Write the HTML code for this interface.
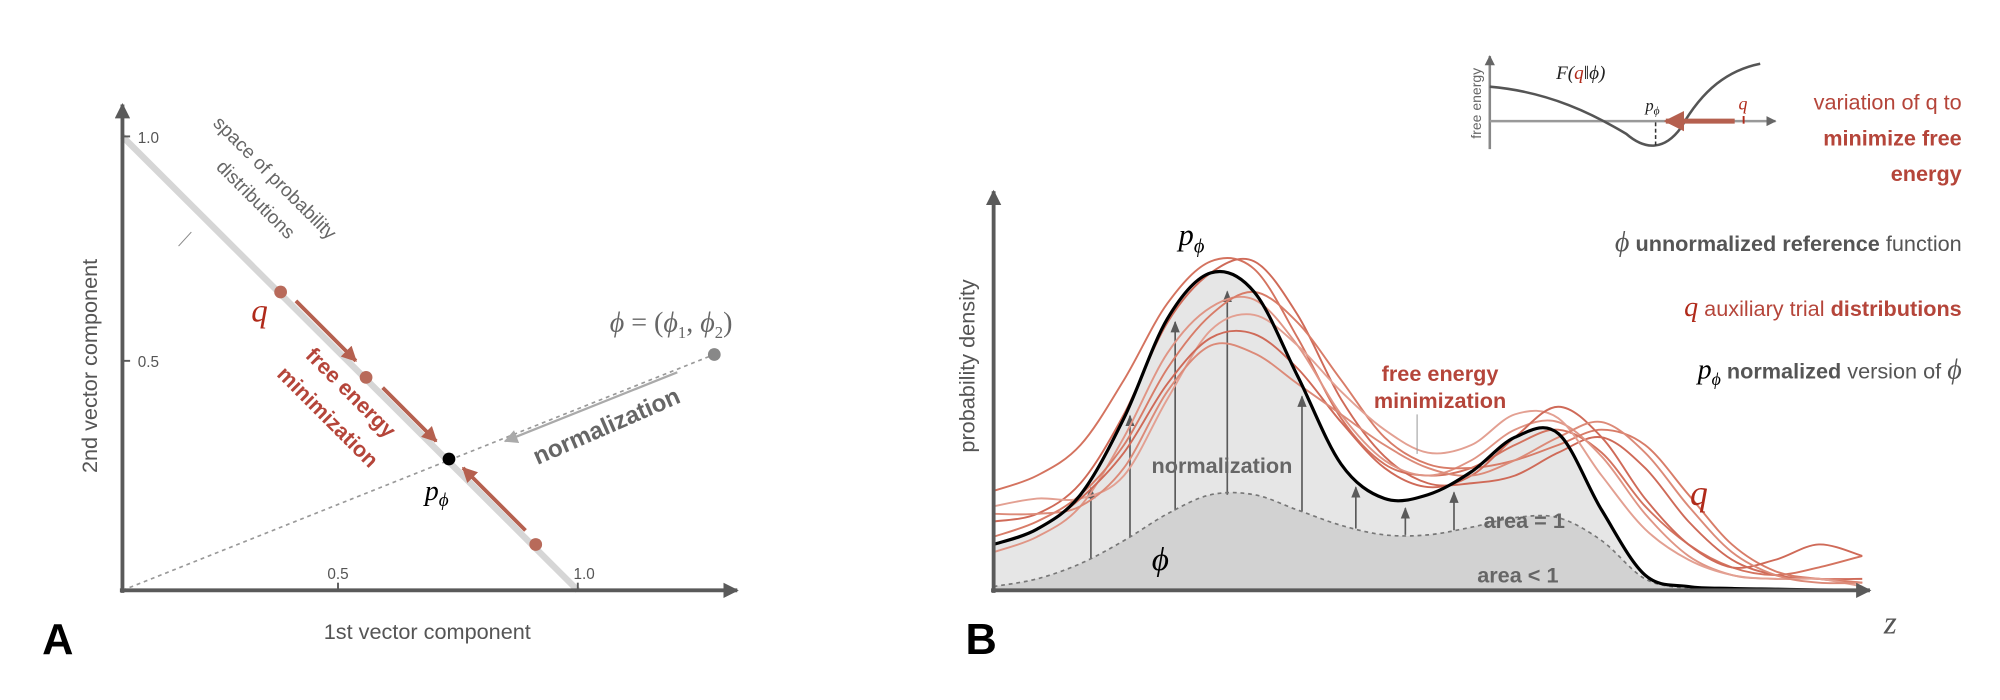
<!DOCTYPE html>
<html><head><meta charset="utf-8"><style>
html,body{margin:0;padding:0;background:#fff}
svg{display:block}
text{font-family:"Liberation Sans",sans-serif}
.serif{font-family:"Liberation Serif",serif;font-style:italic}
</style></head><body>
<svg id="fig" width="2000" height="700" viewBox="0 0 1568 549" preserveAspectRatio="none" xmlns="http://www.w3.org/2000/svg">
<defs>
<marker id="ag" viewBox="0 0 10 10" refX="9" refY="5" markerWidth="4" markerHeight="4" orient="auto"><path d="M0,0L10,5L0,10z" fill="#5a5a5a"/></marker>
<marker id="agb" viewBox="0 0 10 10" refX="9" refY="5" markerWidth="7" markerHeight="7" orient="auto"><path d="M0,1L10,5L0,9z" fill="#5a5a5a"/></marker>
<marker id="ar" viewBox="0 0 10 10" refX="9" refY="5" markerWidth="4" markerHeight="4" orient="auto"><path d="M0,0L10,5L0,10z" fill="#b5604f"/></marker>
<marker id="al" viewBox="0 0 10 10" refX="9" refY="5" markerWidth="6" markerHeight="6" orient="auto"><path d="M0,0L10,5L0,10z" fill="#aaa"/></marker>
<marker id="as" viewBox="0 0 10 10" refX="9" refY="5" markerWidth="4" markerHeight="4" orient="auto"><path d="M0,0L10,5L0,10z" fill="#666"/></marker>
</defs>

<!-- Panel A -->
<g id="panelA">
<line x1="96" y1="107" x2="453" y2="463" stroke="#d6d6d6" stroke-width="5"/>
<line x1="96" y1="463" x2="560" y2="278" stroke="#999" stroke-width="1.3" stroke-dasharray="3,3"/>
<line x1="96" y1="465" x2="96" y2="82" stroke="#5a5a5a" stroke-width="3" marker-end="url(#ag)"/>
<line x1="94" y1="463" x2="578" y2="463" stroke="#5a5a5a" stroke-width="3" marker-end="url(#ag)"/>
<line x1="96" y1="107" x2="102" y2="107" stroke="#5a5a5a" stroke-width="1.5"/>
<line x1="96" y1="283" x2="102" y2="283" stroke="#5a5a5a" stroke-width="1.5"/>
<line x1="265" y1="463" x2="265" y2="457" stroke="#5a5a5a" stroke-width="1.5"/>
<line x1="453" y1="463" x2="453" y2="457" stroke="#5a5a5a" stroke-width="1.5"/>
<text x="108" y="112" font-size="12" fill="#555">1.0</text>
<text x="108" y="288" font-size="12" fill="#555">0.5</text>
<text x="265" y="454" font-size="12" fill="#555" text-anchor="middle">0.5</text>
<text x="458" y="454" font-size="12" fill="#555" text-anchor="middle">1.0</text>
<text transform="translate(76,287) rotate(-90)" font-size="17" fill="#555" text-anchor="middle">2nd vector component</text>
<text x="335" y="501" font-size="17" fill="#555" text-anchor="middle">1st vector component</text>
<text transform="translate(212,143) rotate(45)" font-size="15" fill="#666" text-anchor="middle">space of probability</text>
<text transform="translate(197,160) rotate(45)" font-size="15" fill="#666" text-anchor="middle">distributions</text>
<line x1="140" y1="193" x2="150" y2="182" stroke="#888" stroke-width="0.8"/>
<line x1="232" y1="236" x2="279" y2="283" stroke="#b5604f" stroke-width="3" marker-end="url(#ar)"/>
<line x1="300" y1="304" x2="342" y2="346" stroke="#b5604f" stroke-width="3" marker-end="url(#ar)"/>
<line x1="412" y1="416" x2="363" y2="367" stroke="#b5604f" stroke-width="3" marker-end="url(#ar)"/>
<circle cx="220" cy="229" r="5" fill="#b86a5a"/>
<circle cx="287" cy="296" r="5" fill="#b86a5a"/>
<circle cx="420" cy="427" r="5" fill="#b86a5a"/>
<circle cx="352" cy="360" r="5" fill="#000"/>
<circle cx="560" cy="278" r="5" fill="#888"/>
<line x1="531" y1="292" x2="396" y2="346" stroke="#aaa" stroke-width="1.8" marker-end="url(#al)"/>
<text transform="translate(478,340) rotate(-23.6)" font-size="19" font-weight="bold" fill="#666" text-anchor="middle">normalization</text>
<text transform="translate(271,312) rotate(45)" font-size="17" font-weight="bold" fill="#b5453a" text-anchor="middle">free energy</text>
<text transform="translate(253,331) rotate(45)" font-size="17" font-weight="bold" fill="#b5453a" text-anchor="middle">minimization</text>
<text class="serif" x="197" y="252" font-size="26" fill="#b02a1a">q</text>
<text class="serif" x="333" y="392" font-size="22" fill="#000">p<tspan font-size="15" dy="5">ϕ</tspan></text>
<text class="serif" x="478" y="260" font-size="22" fill="#666">ϕ <tspan font-style="normal">= (</tspan>ϕ<tspan font-size="13" dy="5" font-style="normal">1</tspan><tspan dy="-5" font-style="normal">, </tspan>ϕ<tspan font-size="13" dy="5" font-style="normal">2</tspan><tspan dy="-5" font-style="normal">)</tspan></text>
<text x="33" y="513" font-size="34" font-weight="bold" fill="#000">A</text>
</g>

<!-- Panel B -->
<g id="panelB">
<path id="blackFill" fill="#e6e6e6"/>
<path id="phiFill" fill="#d2d2d2"/>
<g id="arrows"></g>
<g id="qcurves"></g>
<path id="phiLine" fill="none" stroke="#777" stroke-width="1.3" stroke-dasharray="3,3"/>
<path id="blackLine" fill="none" stroke="#000" stroke-width="2.5"/>
<line x1="779" y1="465" x2="779" y2="150" stroke="#5a5a5a" stroke-width="3" marker-end="url(#ag)"/>
<line x1="777" y1="463" x2="1466" y2="463" stroke="#5a5a5a" stroke-width="3" marker-end="url(#ag)"/>
<text class="serif" x="1477" y="497" font-size="26" fill="#555">z</text>
<text transform="translate(764,287) rotate(-90)" font-size="17" fill="#555" text-anchor="middle">probability density</text>
<text class="serif" x="924" y="192" font-size="24" fill="#000">p<tspan font-size="16" dy="6">ϕ</tspan></text>
<text x="958" y="371" font-size="17" font-weight="bold" fill="#666" text-anchor="middle">normalization</text>
<text x="1129" y="299" font-size="17" font-weight="bold" fill="#b5453a" text-anchor="middle">free energy</text>
<text x="1129" y="320" font-size="17" font-weight="bold" fill="#b5453a" text-anchor="middle">minimization</text>
<line x1="1111" y1="325" x2="1111" y2="356" stroke="#999" stroke-width="0.8"/>
<text x="1195" y="414" font-size="17" font-weight="bold" fill="#666" text-anchor="middle">area = 1</text>
<text x="1190" y="457" font-size="17" font-weight="bold" fill="#666" text-anchor="middle">area &lt; 1</text>
<text class="serif" x="903" y="447" font-size="26" fill="#000">ϕ</text>
<text class="serif" x="1325" y="396" font-size="28" fill="#b02a1a">q</text>
<text x="757" y="513" font-size="34" font-weight="bold" fill="#000">B</text>

<!-- inset -->
<g>
<line x1="1168" y1="117" x2="1168" y2="44" stroke="#888" stroke-width="2" marker-end="url(#as)"/>
<line x1="1168" y1="95" x2="1392" y2="95" stroke="#999" stroke-width="2" marker-end="url(#as)"/>
<path d="M1168,68 C1215,72 1250,90 1275,105 C1290,118 1305,118 1318,100 C1335,70 1355,55 1380,50" fill="none" stroke="#555" stroke-width="2"/>
<line x1="1298" y1="96" x2="1298" y2="114" stroke="#333" stroke-width="1.2" stroke-dasharray="3,2"/>
<line x1="1367" y1="91" x2="1367" y2="97" stroke="#b02a1a" stroke-width="1.5"/>
<line x1="1360" y1="95" x2="1306" y2="95" stroke="#b5604f" stroke-width="4" marker-end="url(#ar)"/>
<text class="serif" x="1220" y="62" font-size="15" fill="#222">F(<tspan fill="#b02a1a">q</tspan>‖ϕ)</text>
<text class="serif" x="1290" y="87" font-size="13" fill="#222">p<tspan font-size="9" dy="3">ϕ</tspan></text>
<text class="serif" x="1363" y="86" font-size="14" fill="#b02a1a">q</text>
<text transform="translate(1161,81) rotate(-90)" font-size="11" fill="#666" text-anchor="middle">free energy</text>
</g>
<text x="1538" y="86" font-size="17" fill="#b5453a" text-anchor="end">variation of q to</text>
<text x="1538" y="114" font-size="17" font-weight="bold" fill="#b5453a" text-anchor="end">minimize free</text>
<text x="1538" y="142" font-size="17" font-weight="bold" fill="#b5453a" text-anchor="end">energy</text>
<text x="1538" y="197" font-size="17" fill="#555" text-anchor="end"><tspan class="serif" font-size="22" fill="#555">ϕ</tspan>  <tspan font-weight="bold">unnormalized reference</tspan> function</text>
<text x="1538" y="248" font-size="17" fill="#b5453a" text-anchor="end"><tspan class="serif" font-size="22" fill="#b02a1a">q</tspan>  auxiliary trial <tspan font-weight="bold">distributions</tspan></text>
<text x="1538" y="297" font-size="17" fill="#555" text-anchor="end"><tspan class="serif" font-size="22" fill="#000">p</tspan><tspan class="serif" font-size="14" fill="#000" dy="5">ϕ</tspan><tspan dy="-5"> </tspan> <tspan font-weight="bold">normalized</tspan> version of <tspan class="serif" font-size="22">ϕ</tspan></text>
</g>
</svg>
<script>
const zGrid=[0,5,10,15,20,25,30,35,40,45,50,55,60,65,70,75,80,85,90,95,100];
const pPhi=[12,16,25,45,71,83,78,56,33,24,25,31,40,41,21,4,1,0.5,0.3,0.1,0];
const phiVals=[1,3,7,13,20,25,25,21,17,14.5,14.5,16.5,19,19,13,3,0.5,0,0,0,0];
const q1=[26,30,38,55,75,86,84,66,45,33,30,32,38,42,36,22,12,6,4,6,9];
const q2=[18,20,28,46,70,83,86,72,50,35,28,28,30,36,40,32,18,8,4,3,3];
const q3=[10,14,22,40,62,74,76,64,46,34,30,34,42,44,35,20,9,4,3,3,2];
const q4=[14,18,25,38,58,72,78,70,55,40,33,32,34,38,42,38,25,12,5,3,2];
const q5=[22,24,24,30,50,68,72,64,52,42,36,38,46,45,30,16,8,4,3,3,1];
const q6=[12,16,24,36,54,66,67,58,44,32,27,30,40,48,40,24,12,6,8,12,9];
const q7=[20,20,22,32,52,64,62,54,46,38,32,30,34,40,44,36,22,10,4,2,2];
const arrowZ=[11.2,15.7,20.9,26.9,35.5,41.7,47.4,53];
const qSeries=[q1,q2,q3,q4,q5,q6,q7];
const qColors=['#d4735f','#cf6a58','#e09585','#d87c68','#e3a092','#cf6a58','#dc8a78'];

const NS='http://www.w3.org/2000/svg';
function xB(z){return 779+z*6.81;}
function yB(d){return 463-d*3;}
function pathFor(vals){
  const p=zGrid.map((z,i)=>[xB(z),yB(vals[i])]);
  let d='M'+p[0][0]+','+p[0][1];
  for(let i=0;i<p.length-1;i++){
    const p0=p[Math.max(0,i-1)],p1=p[i],p2=p[i+1],p3=p[Math.min(p.length-1,i+2)];
    const c1=[p1[0]+(p2[0]-p0[0])/6,p1[1]+(p2[1]-p0[1])/6];
    const c2=[p2[0]-(p3[0]-p1[0])/6,p2[1]-(p3[1]-p1[1])/6];
    d+=' C'+c1[0]+','+c1[1]+' '+c2[0]+','+c2[1]+' '+p2[0]+','+p2[1];
  }
  return d;
}
function interp(vals,z){
  for(let i=0;i<zGrid.length-1;i++){
    if(z>=zGrid[i]&&z<=zGrid[i+1]){const t=(z-zGrid[i])/(zGrid[i+1]-zGrid[i]);return vals[i]+(vals[i+1]-vals[i])*t;}
  }
  return vals[vals.length-1];
}
const close=' L'+xB(100)+','+yB(0)+' L'+xB(0)+','+yB(0)+' Z';
document.getElementById('blackFill').setAttribute('d',pathFor(pPhi)+close);
document.getElementById('phiFill').setAttribute('d',pathFor(phiVals)+close);
document.getElementById('blackLine').setAttribute('d',pathFor(pPhi));
document.getElementById('phiLine').setAttribute('d',pathFor(phiVals));
const qg=document.getElementById('qcurves');
qSeries.forEach((s,i)=>{
  const el=document.createElementNS(NS,'path');
  el.setAttribute('d',pathFor(s));
  el.setAttribute('fill','none');
  el.setAttribute('stroke',qColors[i]);
  el.setAttribute('stroke-width','1.5');
  
  
  qg.appendChild(el);
});
const ag=document.getElementById('arrows');
arrowZ.forEach((z,i)=>{
  const el=document.createElementNS(NS,'line');
  const x=xB(z);
  el.setAttribute('x1',x);el.setAttribute('x2',x);
  el.setAttribute('y1',yB(interp(phiVals,z)));
  el.setAttribute('y2',yB(interp(pPhi,z)-3));
  el.setAttribute('stroke','#5a5a5a');
  el.setAttribute('stroke-width','1.3');
  el.setAttribute('marker-end','url(#agb)');
  
  
  ag.appendChild(el);
});
</script>
</body></html>
